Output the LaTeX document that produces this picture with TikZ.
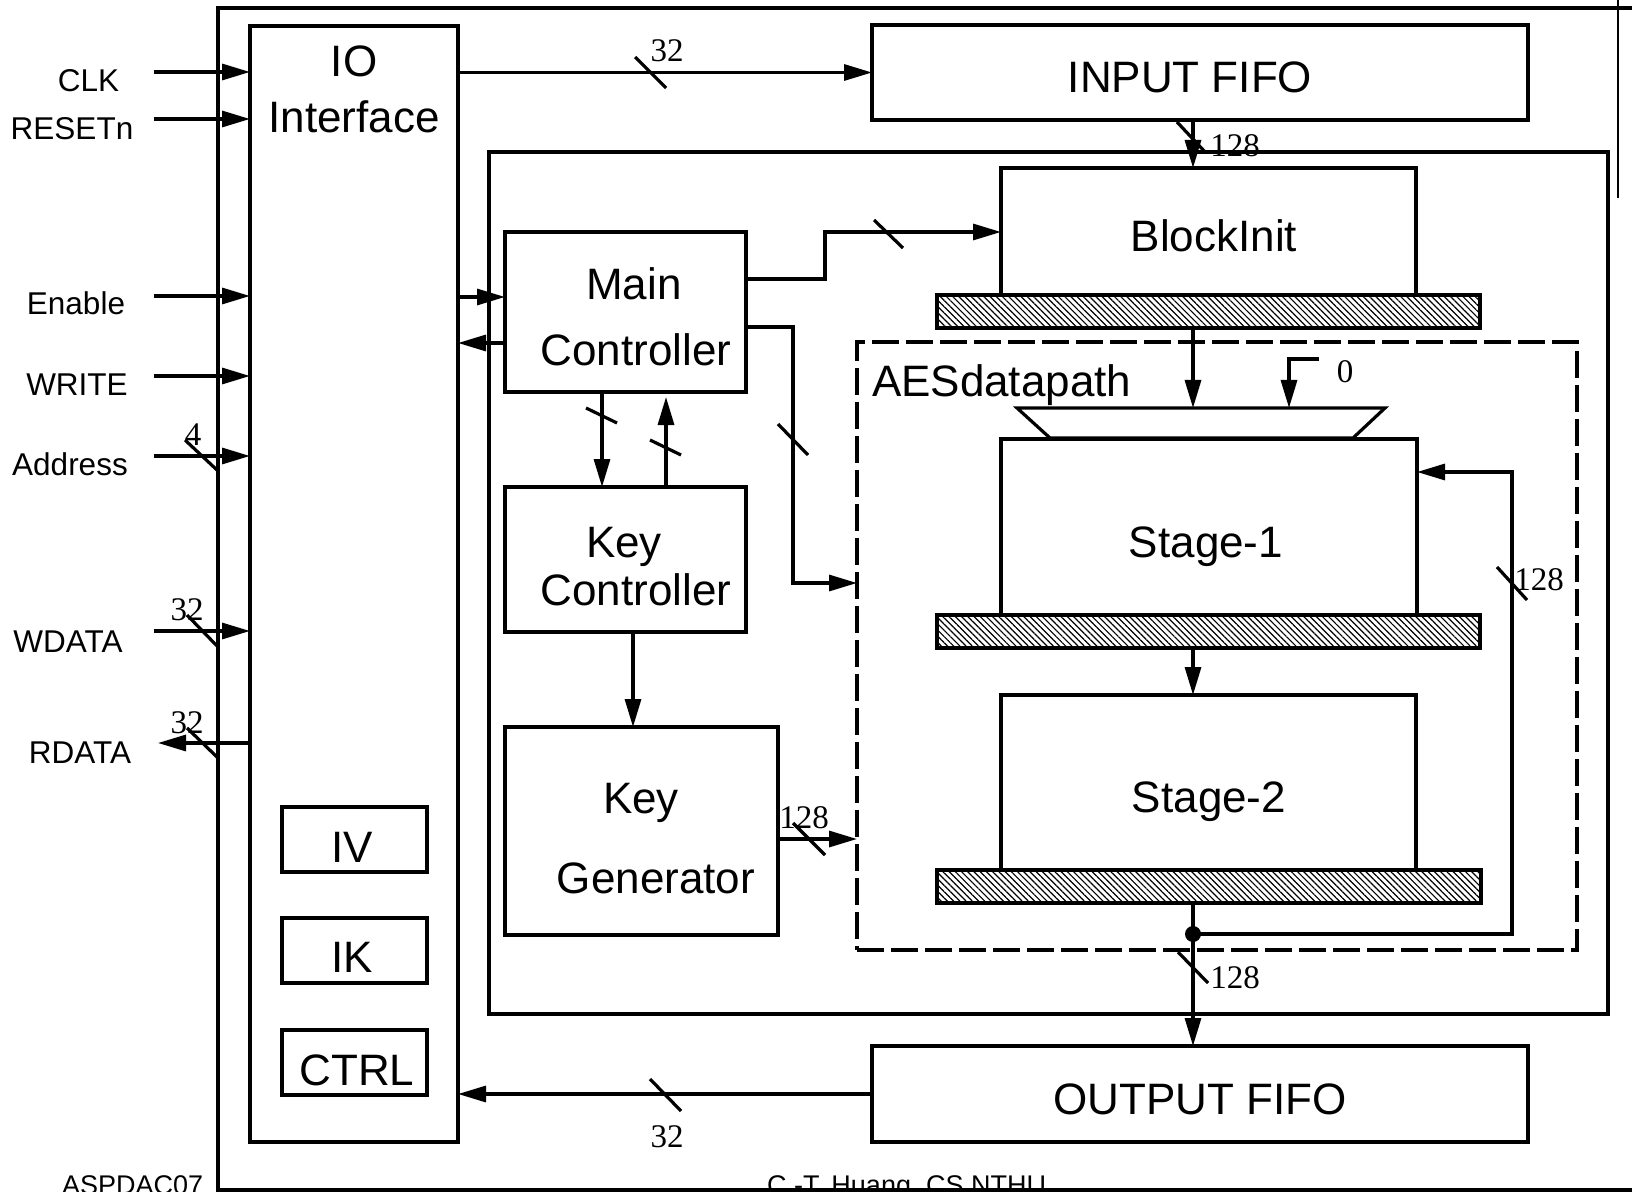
\documentclass[tikz,border=0pt]{standalone}
\usepackage{fontspec}
\setmainfont{Liberation Sans}
\newfontfamily\numfont{Liberation Serif}
\usetikzlibrary{arrows.meta,patterns.meta,calc}
\begin{document}
\begin{tikzpicture}[x=0.5pt,y=-0.5pt,
  every node/.style={inner sep=0pt,outer sep=0pt},
  blk/.style={draw,line width=1.6pt,rectangle,inner sep=0pt,outer sep=0pt},
  dbox/.style={blk,dash pattern=on 13.5pt off 3.5pt},
  hatchbar/.style={blk,pattern={Lines[angle=-45,distance=2.2pt,line width=0.6pt]}},
  big/.style={font=\fontsize{22}{26}\selectfont,anchor=base},
  pinlbl/.style={font=\fontsize{15.75}{18}\selectfont,anchor=base},
  num/.style={font=\numfont\fontsize{16.5}{19}\selectfont,anchor=base},
  foot/.style={font=\fontsize{13.5}{16}\selectfont,anchor=base west},
  wire/.style={line width=1.6pt},
  arr/.style={wire,-{Triangle[length=14pt,width=8pt]}},
]
\useasboundingbox (0,0) rectangle (1632,1192);

% footer texts (cut by page edge, as in the reference)
\node[foot] (ftA) at (62,1194) {ASPDAC07};
\node[foot] (ftB) at (767,1194) {C.-T. Huang, CS NTHU};

% outer frame
\draw[wire] (1632,8) -- (218,8) -- (218,1190) -- (1632,1190);
\draw[line width=0.7pt] (1618,0) -- (1618,198);

% boxes
\node[blk,minimum width=104pt,minimum height=558pt] (io) at (354,584) {};
\node[blk,minimum width=328pt,minimum height=47.5pt] (in) at (1200,72.5) {};
\node[blk,minimum width=559.5pt,minimum height=431pt] (ctl) at (1048.5,583) {};
\node[blk,minimum width=207.5pt,minimum height=63.5pt] (bi) at (1208.5,231.5) {};
\node[hatchbar,minimum width=271.5pt,minimum height=16.5pt] (bar1) at (1208.5,311.5) {};
\node[blk,minimum width=120.5pt,minimum height=80pt] (main) at (625.5,312) {};
\node[blk,minimum width=120.5pt,minimum height=72.5pt] (kc) at (625.5,559.5) {};
\node[blk,minimum width=136.5pt,minimum height=104pt] (kg) at (641.5,831) {};
\node[dbox,minimum width=360pt,minimum height=304pt] (aes) at (1217,646) {};
\node[blk,minimum width=208pt,minimum height=88pt] (s1) at (1209,527) {};
\node[hatchbar,minimum width=271.5pt,minimum height=16.5pt] (bar2) at (1208.5,631.5) {};
\node[blk,minimum width=207.5pt,minimum height=87.5pt] (s2) at (1208.5,782.5) {};
\node[hatchbar,minimum width=272pt,minimum height=16.5pt] (bar3) at (1209,886.5) {};
\node[blk,minimum width=328pt,minimum height=48pt] (out) at (1200,1094) {};
\node[blk,minimum width=72.5pt,minimum height=32.5pt] (iv) at (354.5,839.5) {};
\node[blk,minimum width=72.5pt,minimum height=32.5pt] (ik) at (354.5,950.5) {};
\node[blk,minimum width=72.5pt,minimum height=32.5pt] (ctrl) at (354.5,1062.5) {};

% mux trapezoid
\coordinate (muxTL) at (1017,408);
\coordinate (muxTR) at (1385,408);
\coordinate (muxBR) at (1353,438);
\coordinate (muxBL) at (1050,438);
\draw[wire,line join=miter] (muxTL) -- (muxTR) -- (muxBR) -- (muxBL) -- cycle;

% labels in boxes
\node[big] (tIO) at (354,77) {IO};
\node[big] (tIF) at (354,133) {Interface};
\node[big] (tIn) at (1190,93) {INPUT FIFO};
\node[big] (tBI) at (1214,252) {BlockInit};
\node[big] (tM1) at (634,300) {Main};
\node[big] (tM2) at (636,365) {Controller};
\node[big] (tK1) at (624,557) {Key};
\node[big] (tK2) at (636,605) {Controller};
\node[big] (tG1) at (641,813) {Key};
\node[big] (tG2) at (656,893) {Generator};
\node[big,anchor=base west] (tAES) at (872,397) {AESdatapath};
\node[big] (tS1) at (1206,557) {Stage-1};
\node[big] (tS2) at (1209,812) {Stage-2};
\node[big] (tOut) at (1200,1114) {OUTPUT FIFO};
\node[big] (tIV) at (352,862) {IV};
\node[big] (tIK) at (352,972) {IK};
\node[big] (tCT) at (357,1085) {CTRL};

% pin labels
\node[pinlbl] (lCLK) at (88.5,92) {CLK};
\node[pinlbl] (lRST) at (72,140) {RESETn};
\node[pinlbl] (lEN) at (76,315) {Enable};
\node[pinlbl] (lWR) at (77,395) {WRITE};
\node[pinlbl] (lAD) at (70,475) {Address};
\node[pinlbl] (lWD) at (68,652) {WDATA};
\node[pinlbl] (lRD) at (80,763) {RDATA};

% pin arrows
\coordinate (pCLK) at (154,72);
\coordinate (pRST) at (154,119);
\coordinate (pEN) at (154,296);
\coordinate (pWR) at (154,376);
\coordinate (pAD) at (154,456);
\coordinate (pWD) at (154,631);
\coordinate (pRD) at (158,743);
\foreach \p in {pCLK,pRST,pEN,pWR,pAD,pWD}
  \draw[arr] (\p) -- (\p -| io.west);
\draw[arr] (pRD -| io.west) -- (pRD);

% connectors
\draw[arr] (io.east |- in.west) -- (in.west);
\coordinate (trunk) at (1193,0);
\draw[arr] (trunk |- in.south) -- (trunk |- bi.north);
\coordinate (m1) at (0,297);
\coordinate (m2) at (0,343);
\draw[arr] (io.east |- m1) -- (main.west |- m1);
\draw[arr] (main.west |- m2) -- (io.east |- m2);
\coordinate (j1a) at (825,279);
\coordinate (j1b) at (825,232);
\draw[arr] (main.east |- j1a) -- (j1a) -- (j1b) -- (bi.west |- j1b);
\coordinate (j2a) at (793,327);
\coordinate (j2b) at (793,583);
\draw[arr] (main.east |- j2a) -- (j2a) -- (j2b) -- (aes.west |- j2b);
\coordinate (x1) at (602,0);
\coordinate (x2) at (666,0);
\coordinate (x3) at (633,0);
\draw[arr] (x1 |- main.south) -- (x1 |- kc.north);
\draw[arr] (x2 |- kc.north) -- ([yshift=-2.5pt]x2 |- main.south);
\draw[arr] (x3 |- kc.south) -- (x3 |- kg.north);
\coordinate (y1) at (0,839);
\draw[arr] (kg.east |- y1) -- (aes.west |- y1);
\draw[arr] (trunk |- bar1.south) -- (trunk |- muxTL);
\coordinate (z0) at (1319,359);
\coordinate (z1) at (1289,359);
\draw[arr] (z0) -- (z1) -- (z1 |- muxTL);
\draw[arr] (trunk |- bar2.south) -- (trunk |- s2.north);
\draw[arr] (trunk |- bar3.south) -- (trunk |- out.north);
\coordinate (dot) at (1193,934);
\coordinate (fb) at (1512,472);
\draw[arr] (dot) -| (fb) -- (s1.east |- fb);
\fill (dot) circle (4pt);
\draw[arr] (out.west) -- (io.east |- out.west);

% bus slashes
\draw[wire] (635,57) -- (666,88);
\draw[wire] (1177,122) -- (1206,153);
\draw[wire] (874,220) -- (903,248);
\draw[wire] (778,424) -- (808,455);
\draw[wire] (586,408) -- (617,423);
\draw[wire] (650,440) -- (681,455);
\draw[wire] (185,440) -- (217,470);
\draw[wire] (187,615) -- (218,647);
\draw[wire] (187,728) -- (218,758);
\draw[wire] (793,823) -- (825,855);
\draw[wire] (1497,567) -- (1527,600);
\draw[wire] (1178,952) -- (1208,983);
\draw[wire] (650,1079) -- (681,1111);

% width labels
\node[num] (n1) at (667,62) {32};
\node[num] (n2) at (1235,157) {128};
\node[num] (n3) at (193,445) {4};
\node[num] (n4) at (187,620) {32};
\node[num] (n5) at (187,733) {32};
\node[num] (n6) at (1345,383) {0};
\node[num] (n7) at (1539,590) {128};
\node[num] (n8) at (804,828) {128};
\node[num] (n9) at (1235,988) {128};
\node[num] (n10) at (667,1147) {32};
\end{tikzpicture}
\end{document}
